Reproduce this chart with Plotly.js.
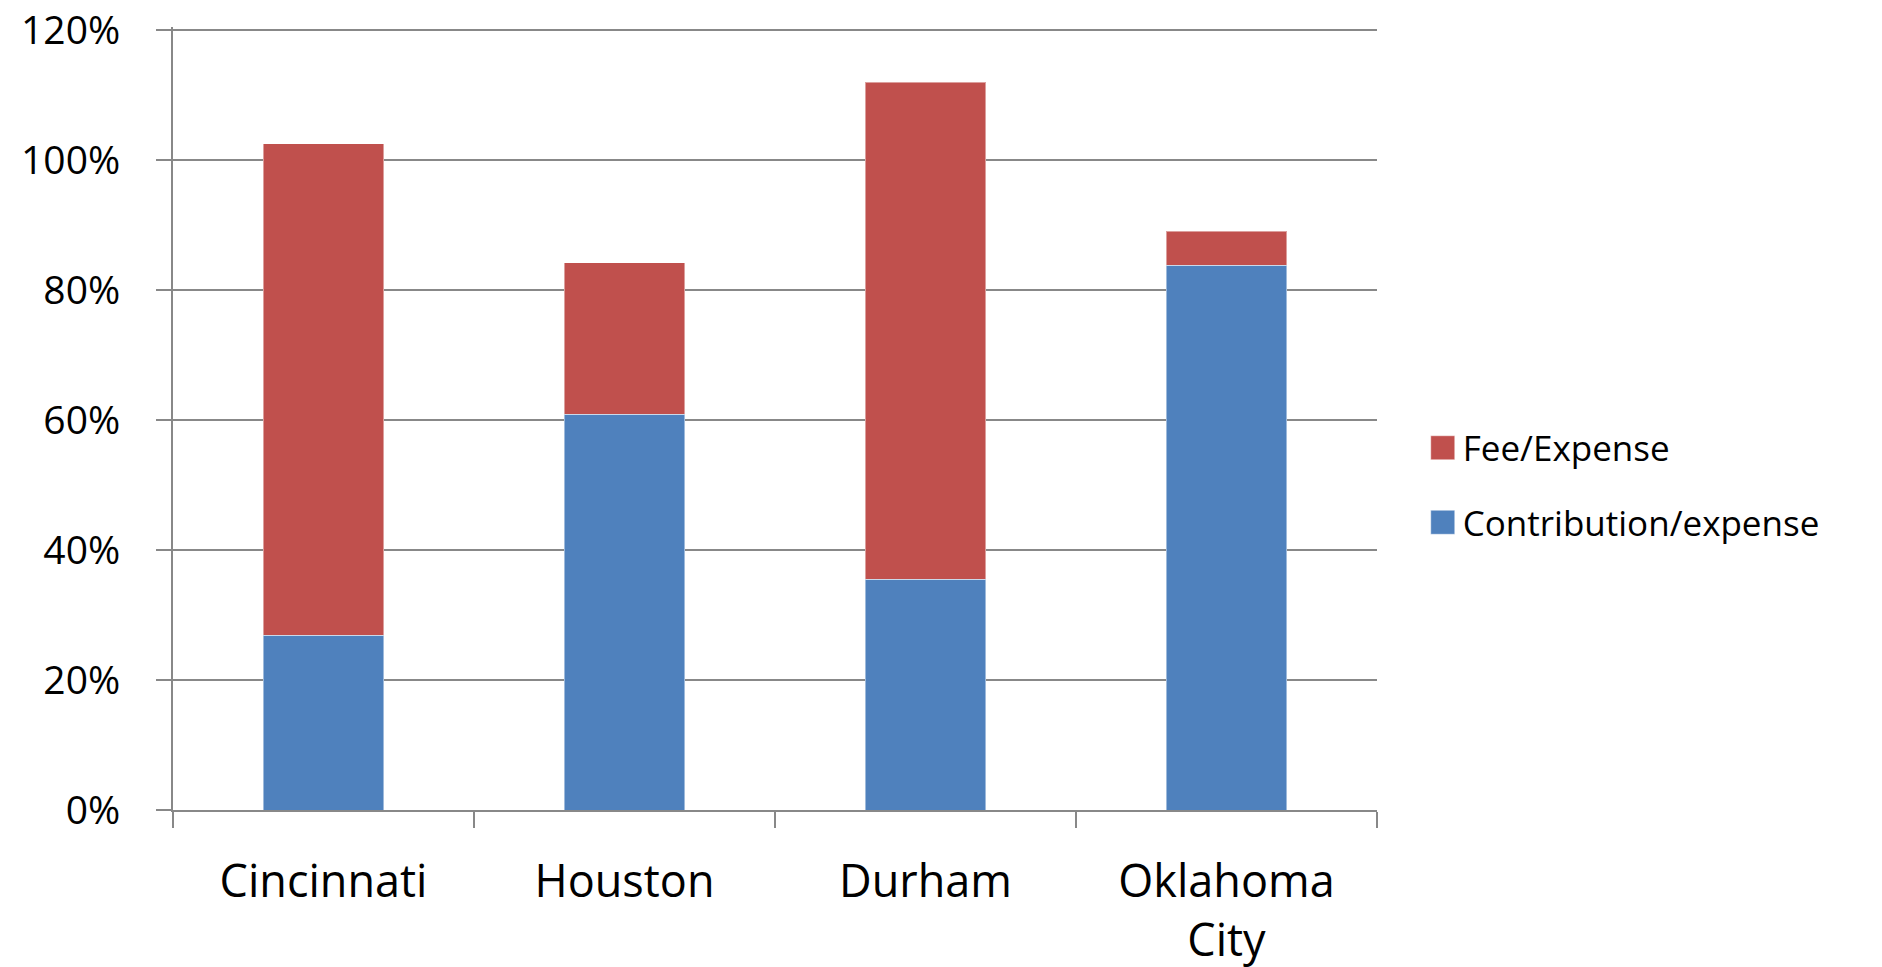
<!DOCTYPE html>
<html>
<head>
<meta charset="utf-8">
<script src="https://cdn.plot.ly/plotly-3.0.1.min.js"></script>
<style>
  html, body { margin: 0; padding: 0; background: #ffffff; }
  #chart { width: 1882px; height: 967px; }
</style>
</head>
<body>
<div id="chart"></div>
<script>
// City categories (Oklahoma City wraps onto two lines)
const cities = ["Cincinnati", "Houston", "Durham", "Oklahoma<br>City"];

// Share of expense covered by contributions (bottom segment)
const contributionExpense = [0.269, 0.609, 0.355, 0.838];

// Share of expense covered by fees (stacked on top)
const feeExpense = [0.756, 0.233, 0.765, 0.053];

// Y axis ticks
const yTickVals = [0, 0.2, 0.4, 0.6, 0.8, 1.0, 1.2];
const yTickText = ["0%", "20%", "40%", "60%", "80%", "100%", "120%"];

const gridGray = "#888888";
const baseFont = "'Open Sans', 'Liberation Sans', sans-serif";

const traces = [
  {
    type: "bar",
    name: "Contribution/expense",
    x: cities,
    y: contributionExpense,
    marker: { color: "#4F81BD", line: { color: "rgba(255,255,255,0.45)", width: 1 } },
    legendgroup: "contrib",
    legendrank: 2,
    hoverinfo: "x+y+name"
  },
  {
    type: "bar",
    name: "Fee/Expense",
    x: cities,
    y: feeExpense,
    marker: { color: "#C0504D", line: { color: "rgba(255,255,255,0.45)", width: 1 } },
    legendgroup: "fee",
    legendrank: 1,
    hoverinfo: "x+y+name"
  }
];

const layout = {
  width: 1882,
  height: 967,
  barmode: "stack",
  bargap: 0.6,
  paper_bgcolor: "#ffffff",
  plot_bgcolor: "#ffffff",
  margin: { l: 173, r: 505, t: 27, b: 157 },
  font: { family: baseFont, color: "#000000" },
  xaxis: {
    type: "category",
    showline: true,
    linecolor: gridGray,
    linewidth: 2,
    ticks: "outside",
    tickson: "boundaries",
    ticklen: 16,
    tickwidth: 2,
    tickcolor: gridGray,
    showgrid: false,
    tickfont: { size: 45, family: baseFont, color: "#000000" },
    ticklabelstandoff: 31
  },
  yaxis: {
    range: [0, 1.205],
    tickvals: yTickVals,
    ticktext: yTickText,
    showline: true,
    linecolor: gridGray,
    linewidth: 2,
    ticks: "outside",
    ticklen: 15,
    tickwidth: 2,
    tickcolor: gridGray,
    showgrid: true,
    gridcolor: gridGray,
    gridwidth: 2,
    zeroline: false,
    ticklabeloverflow: "allow",
    tickfont: { size: 39, family: baseFont, color: "#000000" },
    ticklabelstandoff: 28
  },
  legend: {
    x: 1.038,
    xanchor: "left",
    y: 0.50,
    yanchor: "top",
    traceorder: "grouped",
    tracegroupgap: 26,
    font: { size: 35, family: baseFont, color: "#000000" },
    bgcolor: "rgba(0,0,0,0)"
  },
  showlegend: true
};

Plotly.newPlot("chart", traces, layout, { displayModeBar: false, staticPlot: true }).then(function (gd) {
  // Enlarge the legend swatches to larger squares
  gd.querySelectorAll(".legend .legendpoints path").forEach(function (p) {
    p.setAttribute("d", "M12,12H-12V-12H12Z");
  });
});
</script>
</body>
</html>
